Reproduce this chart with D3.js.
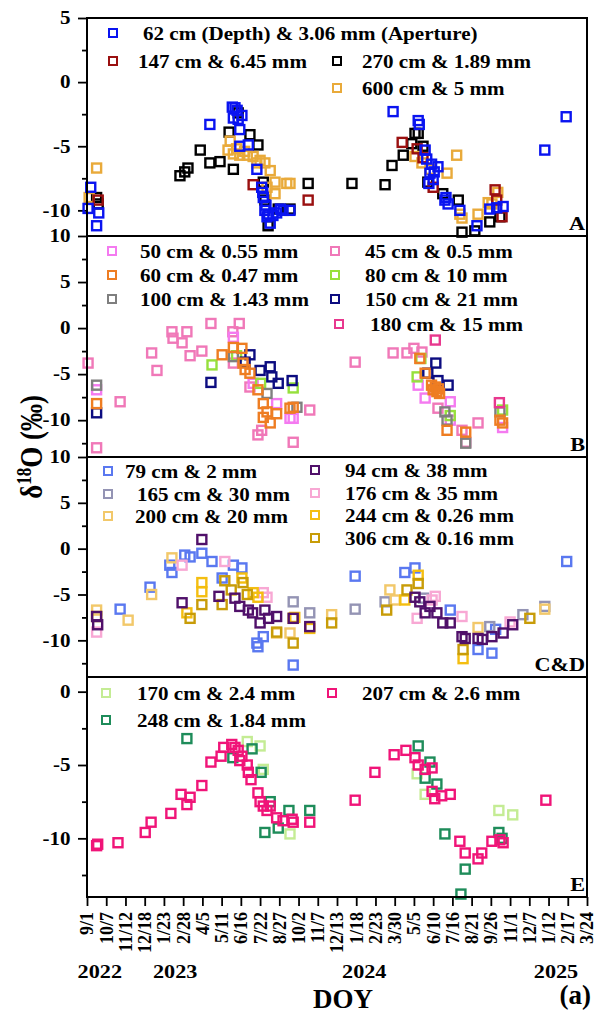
<!DOCTYPE html>
<html>
<head>
<meta charset="utf-8">
<script src="https://cdn.jsdelivr.net/npm/d3@7"></script>
<style>
  html, body { margin: 0; padding: 0; background: #fff; }
  svg { display: block; font-family: "Liberation Serif", "Times New Roman", serif; font-weight: bold; }
</style>
</head>
<body>
<svg id="chart" width="596" height="1015"></svg>
<script>
(function () {
  "use strict";

  // x values are days counted from 2022-09-01 (ticks every 36 days)
  const xTickLabels = ["9/1", "10/7", "11/12", "12/18", "1/23", "2/28", "4/5", "5/11", "6/16",
    "7/22", "8/27", "10/2", "11/7", "12/13", "1/18", "2/23", "3/30", "5/5", "6/10", "7/16",
    "8/21", "9/26", "11/1", "12/7", "1/12", "2/17", "3/24"];
  const yearLabels = ["2022", "2023", "2024", "2025"];
  const yearDays = [24, 165, 519, 878];

  // ---- panel A ----
  const labelsA = ["62 cm (Depth) & 3.06 mm (Aperture)", "147 cm & 6.45 mm", "270 cm & 1.89 mm", "600 cm & 5 mm"];
  const colorsA = ["#0a14f0", "#9a1010", "#000000", "#e9aa3a"];
  const a62 = [[2, -9.85], [7, -8.2], [18, -11.2], [22, -10.2], [230, -3.3], [272, -1.95], [274, -2.8],
    [277, -2.0], [281, -2.2], [283, -2.9], [286, -3.7], [290, -2.6], [286, -5.0], [302, -4.9], [318, -6.8],
    [327, -8.2], [329, -8.6], [330, -9.0], [333, -10], [335, -9.6], [337, -10.5], [340, -10.3], [343, -11.0],
    [348, -10.4], [355, -10.2], [362, -9.9], [367, -10], [380, -10.0], [573, -2.3], [620, -3.0], [622, -3.3],
    [633, -5.3], [636, -6.0], [640, -7.9], [642, -7.1], [645, -6.4], [648, -7.6], [650, -7.0], [657, -6.6],
    [670, -9.2], [672, -9.0], [676, -9.5], [698, -10.0], [730, -11.2], [754, -9.9], [767, -9.8],
    [779, -9.7], [857, -5.3], [897, -2.7]];
  const a147 = [[21, -9.2], [311, -8.0], [414, -9.2], [590, -4.7], [618, -5.2], [629, -5.9], [648, -8.2],
    [764, -8.4], [767, -9.2], [777, -10.5]];
  const a270 = [[18, -9.0], [21, -9.5], [174, -7.3], [183, -7.0], [189, -6.7], [212, -5.3], [230, -6.3],
    [249, -6.2], [266, -3.9], [274, -6.8], [283, -2.4], [305, -4.1], [320, -4.9], [330, -7.8], [333, -9.2],
    [339, -11.2], [358, -9.9], [380, -9.9], [414, -7.9], [496, -7.9], [558, -8.0], [571, -6.5], [592, -5.7],
    [608, -4.8], [614, -4.0], [620, -4.0], [629, -5.0], [638, -7.8], [666, -8.7], [695, -9.2], [702, -11.7],
    [726, -11.6], [754, -10.9], [773, -10.5]];
  const a600 = [[4, -9.0], [18, -6.7], [264, -5.3], [268, -4.6], [274, -5.6], [280, -5.2], [286, -5.7],
    [295, -5.4], [300, -5.7], [311, -5.8], [318, -6.3], [324, -6.1], [333, -6.3], [343, -6.9], [352, -7.8],
    [374, -7.9], [352, -8.7], [337, -8.2], [380, -7.9], [614, -5.8], [627, -6.3], [642, -6.8], [674, -7.1],
    [692, -5.7], [698, -10.3], [702, -10.6], [732, -10.3], [751, -9.4], [758, -9.5], [769, -8.6]];

  // ---- panel B ----
  const labelsB = ["50 cm & 0.55 mm", "45 cm & 0.5 mm", "60 cm & 0.47 mm", "80 cm & 10 mm",
    "100 cm & 1.43 mm", "150 cm & 21 mm", "180 cm & 15 mm"];
  const colorsB = ["#f47af0", "#f078b8", "#ee7d22", "#96e03c", "#7f7f7f", "#0c0c80", "#e8388e"];
  const b50 = [[18, -6.7], [274, -1.0], [311, -6.0], [355, -8.2], [380, -9.8], [386, -9.8], [620, -6.2],
    [633, -7.6], [680, -8.0], [680, -10.0], [778, -10.8]];
  const b45 = [[2, -3.8], [18, -13.0], [62, -8.0], [121, -2.7], [131, -4.6], [159, -0.4], [161, -1.1],
    [178, -1.6], [187, -0.4], [193, -3.0], [215, -2.5], [232, 0.5], [273, -0.4], [285, 0.5], [274, -3.8],
    [305, -6.4], [320, -11.6], [327, -11.1], [386, -12.4], [417, -8.9], [502, -3.7], [573, -2.7], [599, -2.7],
    [612, -2.2], [627, -2.6], [657, -8.7], [702, -11.1], [709, -12.4], [732, -10.3]];
  const b60 = [[18, -8.2], [253, -2.9], [274, -2.1], [290, -2.2], [292, -3.8], [296, -4.5], [305, -4.9],
    [320, -6.7], [330, -8.2], [337, -9.1], [330, -9.7], [343, -10.3], [355, -9.3], [380, -8.7], [386, -8.6],
    [623, -3.3], [633, -4.9], [645, -6.2], [648, -6.7], [652, -6.4], [655, -6.9], [658, -6.6], [660, -7.1],
    [674, -11.1], [709, -11.3], [773, -10.0], [778, -10.3]];
  const b80 = [[234, -4.0], [280, -3.0], [325, -6.0], [386, -6.5], [618, -5.3], [625, -3.3], [680, -9.5],
    [778, -8.9]];
  const b100 = [[18, -6.2], [274, -3.1], [337, -7.1], [393, -8.6], [670, -9.1], [674, -10.0], [709, -12.5],
    [773, -9.1]];
  const b150 = [[18, -9.2], [232, -5.9], [296, -3.7], [305, -2.9], [324, -4.6], [343, -4.2], [346, -5.3],
    [358, -6.0], [384, -5.7], [638, -4.9], [653, -3.8], [657, -5.7], [676, -6.2]];
  const b180 = [[652, -1.3], [772, -8.1]];

  // ---- panel C&D ----
  const labelsC = ["79 cm & 2 mm", "94 cm & 38 mm", "165 cm & 30 mm", "176 cm & 35 mm",
    "200 cm & 20 mm", "244 cm & 0.26 mm", "306 cm & 0.16 mm"];
  const colorsC = ["#5a78f0", "#50106a", "#9494b4", "#f8a8d4", "#f2c86a", "#f4be10", "#c89c08"];
  const c79 = [[62, -6.6], [118, -4.2], [155, -1.8], [159, -2.6], [183, -0.7], [193, -0.9], [215, -0.5],
    [234, -1.4], [253, -3.2], [274, -1.8], [290, -2.1], [318, -10.3], [320, -10.7], [330, -9.6], [386, -12.7],
    [502, -3.0], [595, -2.6], [614, -2.1], [680, -6.7], [732, -11.0], [758, -11.4], [765, -8.8], [898, -1.4]];
  const c94 = [[18, -7.4], [20, -8.3], [178, -5.9], [215, 1.0], [247, -5.2], [277, -5.4], [286, -6.3],
    [302, -6.7], [310, -7.0], [324, -8.1], [333, -6.7], [340, -7.6], [355, -7.4], [386, -7.6], [417, -8.5],
    [614, -5.3], [623, -5.8], [633, -7.0], [642, -6.3], [655, -7.0], [666, -8.1], [680, -8.1], [702, -9.6],
    [708, -9.8], [732, -9.8], [740, -9.9], [758, -9.6], [779, -9.2], [797, -8.3]];
  const c165 = [[386, -5.8], [417, -7.0], [502, -6.6], [558, -5.8], [630, -5.4], [754, -8.5], [816, -7.2],
    [857, -6.3]];
  const c176 = [[18, -9.1], [178, -1.8], [258, -1.4], [330, -4.8], [337, -5.3], [618, -7.6], [646, -5.6],
    [652, -5.2], [702, -7.4], [792, -8.0]];
  const c200 = [[18, -6.7], [77, -7.8], [121, -5.0], [159, -1.0], [355, -9.2], [380, -9.2], [458, -7.2],
    [567, -4.5], [577, -5.6], [732, -8.6], [857, -6.6]];
  const c244 = [[187, -7.0], [215, -3.7], [215, -4.7], [290, -3.2], [311, -4.8], [320, -5.3], [386, -7.6],
    [389, -7.5], [417, -8.7], [595, -5.6], [620, -2.9], [704, -12.0]];
  const c306 = [[18, -7.4], [193, -7.6], [215, -6.1], [253, -6.1], [258, -3.5], [270, -4.5], [292, -3.7],
    [300, -5.0], [355, -9.1], [386, -10.3], [458, -8.1], [561, -6.7], [599, -4.5], [620, -3.8], [704, -11.0],
    [829, -7.6]];

  // ---- panel E ----
  const labelsE = ["170 cm & 2.4 mm", "207 cm & 2.6 mm", "248 cm & 1.84 mm"];
  const colorsE = ["#c4ec94", "#f01478", "#1e8c5a"];
  const e170 = [[300, -3.4], [324, -3.7], [330, -5.3], [380, -9.7], [618, -5.6], [633, -7.0], [771, -8.1],
    [797, -8.4]];
  const e207 = [[18, -10.5], [20, -10.4], [58, -10.3], [109, -9.6], [120, -8.9], [157, -8.3], [176, -7.0],
    [187, -7.7], [193, -7.2], [215, -6.4], [232, -4.8], [251, -4.4], [256, -3.8], [271, -3.6], [277, -3.8],
    [283, -4.0], [290, -4.4], [286, -4.7], [300, -5.0], [302, -5.5], [307, -6.0], [320, -6.9], [324, -7.5],
    [330, -7.8], [337, -8.1], [343, -7.8], [355, -8.6], [367, -8.8], [384, -8.7], [386, -8.9], [417, -8.9],
    [502, -7.4], [539, -5.5], [575, -4.3], [597, -4.0], [614, -4.5], [620, -5.0], [633, -5.3], [646, -5.2],
    [646, -6.8], [651, -7.3], [664, -7.1], [680, -7.0], [698, -10.2], [708, -11.0], [732, -11.4],
    [739, -11.0], [758, -10.2], [773, -10.1], [779, -10.3], [859, -7.4]];
  const e248 = [[187, -3.2], [273, -4.5], [309, -3.9], [326, -5.5], [343, -7.5], [333, -9.6], [358, -9.3],
    [378, -8.1], [417, -8.1], [620, -3.7], [642, -4.8], [633, -5.9], [655, -6.3], [670, -9.7], [708, -12.1],
    [700, -13.8], [771, -9.6], [777, -10.0]];

  const SX = 1.17; // horizontal stretch of the original figure's text
  const X0 = 87, X1 = 587;

  const panels = [
    { top: 18, bottom: 236, domain: [-12, 5], major: [5, 0, -5, -10], minor: [2.5, -2.5, -7.5], letter: "A",
      labels: labelsA, colors: colorsA, data: [a62, a147, a270, a600], order: [2, 3, 1, 0],
      legend: [[113, 33, 143], [113, 61, 138], [337, 61, 362], [337, 88, 362]] },
    { top: 236, bottom: 457, domain: [-14, 10], major: [10, 5, 0, -5, -10], minor: [7.5, 2.5, -2.5, -7.5, -12.5],
      letter: "B", labels: labelsB, colors: colorsB, data: [b50, b45, b60, b80, b100, b150, b180],
      order: [1, 0, 3, 4, 5, 6, 2],
      legend: [[112, 251, 140], [335, 251, 365], [112, 275, 140], [335, 275, 365], [112, 299, 140],
        [335, 299, 365], [339, 324, 370]] },
    { top: 457, bottom: 677, domain: [-14, 10], major: [10, 5, 0, -5, -10], minor: [7.5, 2.5, -2.5, -7.5, -12.5],
      letter: "C&D", labels: labelsC, colors: colorsC, data: [c79, c94, c165, c176, c200, c244, c306],
      order: [0, 2, 4, 3, 5, 6, 1],
      legend: [[108, 471, 125], [315, 470, 345], [108, 494, 137], [315, 493, 345], [108, 516, 135],
        [315, 515, 345], [315, 538, 345]] },
    { top: 677, bottom: 897, domain: [-14, 1], major: [0, -5, -10], minor: [-2.5, -7.5, -12.5], letter: "E",
      labels: labelsE, colors: colorsE, data: [e170, e207, e248], order: [0, 2, 1],
      legend: [[106, 693, 137], [332, 693, 362], [106, 720, 137]] }
  ];

  const svg = d3.select("#chart");
  const x = d3.scaleLinear().domain([0, 936]).range([X0, X1]);

  function stretchedText(parent, px, py, str, size, anchor) {
    return parent.append("text")
      .attr("transform", `translate(${px},${py}) scale(${SX},1)`)
      .attr("font-size", size)
      .attr("text-anchor", anchor || "start")
      .text(str);
  }

  function styleAxis(g) {
    g.attr("font-family", null).attr("font-size", null);
    g.select(".domain").remove();
    g.selectAll(".tick line").attr("stroke", "#000").attr("stroke-width", 1.8);
  }

  panels.forEach((p) => {
    const y = d3.scaleLinear().domain(p.domain).range([p.bottom, p.top]);
    const g = svg.append("g");

    const minor = g.append("g").attr("transform", `translate(${X0},0)`)
      .call(d3.axisLeft(y).tickValues(p.minor).tickSize(5).tickFormat(""));
    styleAxis(minor);

    const major = g.append("g").attr("transform", `translate(${X0},0)`)
      .call(d3.axisLeft(y).tickValues(p.major).tickSize(9).tickPadding(5).tickFormat(d3.format("d")));
    styleAxis(major);
    major.selectAll(".tick text")
      .attr("font-size", 18)
      .attr("fill", "#000")
      .attr("transform", `scale(${SX},1)`)
      .text((d) => (d < 0 ? "-" + Math.abs(d) : d));

    // points
    p.order.forEach((i) => {
      g.append("g")
        .selectAll("rect")
        .data(p.data[i])
        .join("rect")
        .attr("x", (d) => x(d[0]) - 4.5)
        .attr("y", (d) => y(d[1]) - 4.5)
        .attr("width", 9)
        .attr("height", 9)
        .attr("fill", "none")
        .attr("stroke", p.colors[i])
        .attr("stroke-width", 2.4);
    });

    // legend
    const lg = g.append("g");
    p.labels.forEach((label, i) => {
      const [mx, my, tx] = p.legend[i];
      lg.append("rect")
        .attr("x", mx - 4).attr("y", my - 4)
        .attr("width", 8).attr("height", 8)
        .attr("fill", "none")
        .attr("stroke", p.colors[i])
        .attr("stroke-width", 2);
      stretchedText(lg, tx, my + 7, label, 18);
    });

    stretchedText(g, 585, p.bottom - 6, p.letter, 19, "end");

    g.append("rect")
      .attr("x", X0).attr("y", p.top)
      .attr("width", X1 - X0).attr("height", p.bottom - p.top)
      .attr("fill", "none")
      .attr("stroke", "#000")
      .attr("stroke-width", 2);
  });

  // bottom axis
  const xTicks = xTickLabels.map((_, i) => i * 36);
  const xAxis = svg.append("g")
    .attr("transform", `translate(0,${panels[3].bottom})`)
    .call(d3.axisBottom(x).tickValues(xTicks).tickSize(9).tickFormat((d, i) => xTickLabels[i]));
  styleAxis(xAxis);
  xAxis.selectAll(".tick text")
    .attr("font-size", 18)
    .attr("fill", "#000")
    .attr("text-anchor", "end")
    .attr("x", -15)
    .attr("y", 0)
    .attr("dy", "0.33em")
    .attr("transform", "rotate(-90)");

  yearLabels.forEach((label, i) => {
    stretchedText(svg, x(yearDays[i]), 978, label, 19, "middle");
  });

  svg.append("text")
    .attr("x", 343).attr("y", 1008)
    .attr("font-size", 27)
    .attr("text-anchor", "middle")
    .text("DOY");

  svg.append("text")
    .attr("x", 591).attr("y", 1004)
    .attr("font-size", 27)
    .attr("text-anchor", "end")
    .text("(a)");

  // y title
  const yTitle = svg.append("text")
    .attr("transform", `translate(42,447) scale(${SX},1) rotate(-90)`)
    .attr("font-size", 27)
    .attr("text-anchor", "middle");
  yTitle.append("tspan").text("δ");
  yTitle.append("tspan").attr("font-size", 17).attr("dy", "-0.55em").text("18");
  yTitle.append("tspan").attr("dy", "0.35em").text("O (‰)");
})();
</script>
</body>
</html>
